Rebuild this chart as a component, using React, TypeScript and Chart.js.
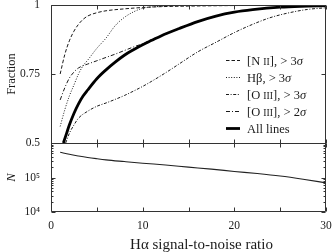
import React, { useEffect, useRef } from 'react';
import { Chart, registerables } from 'chart.js';

Chart.register(...registerables);

// ---- data ----
const snrNII = [1, 1.5, 2, 2.5, 3, 3.5, 4, 5, 6, 8, 10, 12, 15, 20, 25, 30];
const fracNII = [0.75, 0.82, 0.87, 0.905, 0.93, 0.948, 0.96, 0.972, 0.979, 0.986, 0.991, 0.994, 0.996, 0.998, 0.999, 0.999];

const snrHb = [1, 1.5, 2, 2.5, 3, 3.5, 4, 5, 6, 7, 8, 9, 10, 12, 15, 20, 30];
const fracHb = [0.56, 0.62, 0.67, 0.71, 0.75, 0.78, 0.8, 0.843, 0.88, 0.925, 0.955, 0.975, 0.988, 0.995, 0.998, 0.999, 1.0];

const snrOIII3 = [1.6, 2, 2.5, 3, 4, 5, 6, 7, 8, 9, 10, 11, 12, 13, 14, 16, 18, 20, 22, 24, 26, 28, 30];
const fracOIII3 = [0.5, 0.535, 0.565, 0.59, 0.615, 0.633, 0.645, 0.658, 0.672, 0.688, 0.705, 0.724, 0.744, 0.765, 0.787, 0.83, 0.865, 0.9, 0.93, 0.955, 0.972, 0.984, 0.99];

const snrOIII2 = [1, 1.5, 2, 2.5, 3, 3.5, 4, 5, 6, 7, 8, 9, 10, 11, 12, 14, 16, 18, 20, 22, 25, 28, 30];
const fracOIII2 = [0.656, 0.7, 0.735, 0.757, 0.772, 0.78, 0.786, 0.798, 0.81, 0.822, 0.835, 0.848, 0.86, 0.875, 0.888, 0.915, 0.94, 0.96, 0.974, 0.983, 0.992, 0.996, 0.998];

const snrAll = [1.35, 1.7, 2, 2.5, 3, 3.5, 4, 5, 6, 7, 8, 9, 10, 11, 12, 14, 16, 18, 20, 22, 25, 28, 30];
const fracAll = [0.5, 0.535, 0.565, 0.607, 0.642, 0.67, 0.692, 0.733, 0.765, 0.793, 0.818, 0.838, 0.856, 0.872, 0.888, 0.915, 0.94, 0.96, 0.974, 0.983, 0.992, 0.996, 0.998];

const snrCount = [1, 2, 3, 4, 5, 6, 8, 10, 12.5, 15, 17.5, 20, 22.5, 25, 27.5, 30];
const countN = [5.4e5, 4.7e5, 4.2e5, 3.8e5, 3.5e5, 3.25e5, 2.9e5, 2.6e5, 2.3e5, 2.0e5, 1.75e5, 1.5e5, 1.3e5, 1.1e5, 8.9e4, 7.0e4];

const seriesLabels = ['[N II], > 3σ', 'Hβ, > 3σ', '[O III], > 3σ', '[O III], > 2σ', 'All lines'];
const xTitle = 'Hα signal-to-noise ratio';
const xTickValues = [0, 10, 20, 30];
const xMarkValues = [0, 5, 10, 15, 20, 25, 30];
const fractionTicks = [0.5, 0.75, 1];
const countTicks = [1e4, 1e5, 1e6];
const countTickLabels = ['10⁴', '10⁵', ''];

const FONT = "'Liberation Serif', 'DejaVu Serif', serif";
const INK = '#1a1a1a';

function pts(xs: number[], ys: number[]) {
  return xs.map((x, i) => ({ x, y: ys[i] }));
}

function drawRich(ctx: CanvasRenderingContext2D, text: string, x: number, y: number, size: number) {
  const parts = text.split(/(I{2,3}|σ)/).filter((p) => p.length > 0);
  let cx = x;
  for (const p of parts) {
    if (/^I+$/.test(p)) ctx.font = `${size * 0.78}px ${FONT}`;
    else if (p === 'σ') ctx.font = `italic ${size}px ${FONT}`;
    else ctx.font = `${size}px ${FONT}`;
    ctx.fillText(p, cx, y);
    cx += ctx.measureText(p).width;
  }
}

const framePlugin = {
  id: 'frameTicks',
  afterDatasetsDraw(chart: any) {
    const { ctx, chartArea: ca, scales } = chart;
    const x = scales.x, y = scales.y, y2 = scales.y2;
    const L = Math.round(ca.left) + 0.5;
    const R = Math.round(ca.right) - 0.5;
    const T = Math.round(ca.top) + 0.5;
    const B = Math.round(ca.bottom) - 0.5;
    const M = Math.round(y.bottom) + 0.5;
    ctx.save();
    ctx.strokeStyle = '#333';
    ctx.lineWidth = 1;
    ctx.beginPath();
    ctx.rect(L, T, R - L, B - T);
    ctx.moveTo(L, M);
    ctx.lineTo(R, M);
    const seg = (x1: number, y1: number, x2: number, y2_: number) => {
      ctx.moveTo(x1, y1);
      ctx.lineTo(x2, y2_);
    };
    for (const v of xMarkValues) {
      const px = Math.round(x.getPixelForValue(v)) + 0.5;
      seg(px, T, px, T + 4);
      seg(px, M, px, M - 4);
      seg(px, M, px, M + 4);
      seg(px, B, px, B - 4);
    }
    for (const v of fractionTicks) {
      const py = Math.round(y.getPixelForValue(v)) + 0.5;
      seg(L, py, L + 4, py);
      seg(R, py, R - 4, py);
    }
    for (let k = 4; k <= 5; k++) {
      for (let m = 1; m <= 9; m++) {
        const v = m * Math.pow(10, k);
        const py = Math.round(y2.getPixelForValue(v)) + 0.5;
        const len = m === 1 ? 4 : 2;
        seg(L, py, L + len, py);
        seg(R, py, R - len, py);
      }
    }
    ctx.stroke();
    ctx.restore();
  },
  afterDraw(chart: any) {
    const { ctx, chartArea: ca } = chart;
    ctx.save();
    ctx.fillStyle = INK;
    ctx.textBaseline = 'alphabetic';
    ctx.textAlign = 'left';
    const sets = chart.data.datasets.slice(0, seriesLabels.length);
    sets.forEach((ds: any, i: number) => {
      const rowY = Math.round(ca.top + 55 + i * 17.1) + 0.5;
      ctx.beginPath();
      ctx.strokeStyle = ds.borderColor;
      ctx.lineWidth = ds.borderWidth;
      ctx.setLineDash(ds.borderDash || []);
      ctx.moveTo(ca.right - 100, rowY);
      ctx.lineTo(ca.right - 86, rowY);
      ctx.stroke();
      ctx.setLineDash([]);
      drawRich(ctx, ds.label, ca.right - 79, rowY + 4, 12.5);
    });
    // x-axis title
    ctx.font = `15px ${FONT}`;
    ctx.textAlign = 'center';
    ctx.textBaseline = 'middle';
    ctx.fillText(xTitle, (ca.left + ca.right) / 2 + 13, 245);
    ctx.restore();
  },
};

export default function App() {
  const ref = useRef<HTMLCanvasElement | null>(null);
  useEffect(() => {
    if (!ref.current) return;
    const thin = 1;
    const chart = new Chart(ref.current, {
      type: 'line',
      data: {
        datasets: [
          { label: seriesLabels[0], data: pts(snrNII, fracNII), yAxisID: 'y', borderColor: INK, borderWidth: thin, borderDash: [3.5, 2], order: 1 },
          { label: seriesLabels[1], data: pts(snrHb, fracHb), yAxisID: 'y', borderColor: INK, borderWidth: thin, borderDash: [1, 1.6], order: 1 },
          { label: seriesLabels[2], data: pts(snrOIII3, fracOIII3), yAxisID: 'y', borderColor: INK, borderWidth: thin, borderDash: [3, 1.6, 1, 1.6], order: 1 },
          { label: seriesLabels[3], data: pts(snrOIII2, fracOIII2), yAxisID: 'y', borderColor: INK, borderWidth: thin, borderDash: [4, 2, 1, 2], order: 1 },
          { label: seriesLabels[4], data: pts(snrAll, fracAll), yAxisID: 'y', borderColor: '#000', borderWidth: 2.8, order: -1 },
          { label: 'N', data: pts(snrCount, countN), yAxisID: 'y2', borderColor: '#222', borderWidth: 1.1, order: 1 },
        ] as any,
      },
      options: {
        animation: false,
        responsive: false,
        devicePixelRatio: 1,
        elements: { point: { radius: 0 }, line: { cubicInterpolationMode: 'monotone', fill: false } },
        layout: { padding: { left: 0, top: 5, right: 7, bottom: 0 } },
        plugins: { legend: { display: false }, tooltip: { enabled: false } },
        scales: {
          x: {
            type: 'linear',
            position: 'bottom',
            min: 0,
            max: 30,
            grid: { display: false, drawTicks: false },
            border: { display: false },
            afterBuildTicks: (s: any) => { s.ticks = xTickValues.map((v) => ({ value: v })); },
            afterFit: (s: any) => { s.height = 40; s.paddingLeft = 0; s.paddingRight = 0; },
            ticks: { autoSkip: false, maxRotation: 0, padding: 7, color: INK, font: { family: FONT, size: 11.5 }, callback: (v: any) => String(v) },
            title: { display: false },
          },
          y: {
            type: 'linear',
            position: 'left',
            stack: 'panels',
            stackWeight: 2,
            weight: 2,
            min: 0.5,
            max: 1,
            grid: { display: false, drawTicks: false },
            border: { display: false },
            afterBuildTicks: (s: any) => { s.ticks = fractionTicks.map((v) => ({ value: v })); },
            afterFit: (s: any) => { s.width = 51; s.paddingTop = 0; s.paddingBottom = 0; },
            ticks: { autoSkip: false, padding: 11, color: INK, font: { family: FONT, size: 11.5 }, callback: (v: any) => String(v) },
            title: { display: true, text: 'Fraction', color: INK, font: { family: FONT, size: 12.5 }, padding: { top: 4, bottom: 0 } },
          },
          y2: {
            type: 'logarithmic',
            position: 'left',
            stack: 'panels',
            stackWeight: 1,
            weight: 1,
            min: 1e4,
            max: 1e6,
            grid: { display: false, drawTicks: false },
            border: { display: false },
            afterBuildTicks: (s: any) => { s.ticks = countTicks.map((v) => ({ value: v })); },
            afterFit: (s: any) => { s.width = 51; s.paddingTop = 0; s.paddingBottom = 0; },
            ticks: {
              autoSkip: false,
              padding: 11,
              color: INK,
              font: { family: FONT, size: 11.5 },
              callback: (v: any) => {
                const i = countTicks.indexOf(Number(v));
                return i >= 0 ? countTickLabels[i] : '';
              },
            },
            title: { display: true, text: 'N', color: INK, font: { family: FONT, size: 12.5, style: 'italic' }, padding: { top: 4, bottom: 0 } },
          },
        },
      } as any,
      plugins: [framePlugin],
    });
    return () => chart.destroy();
  }, []);
  return (
    <div style={{ position: 'absolute', left: 0, top: 0, width: 333, height: 252, background: '#fff' }}>
      <canvas ref={ref} width={333} height={252} />
    </div>
  );
}
